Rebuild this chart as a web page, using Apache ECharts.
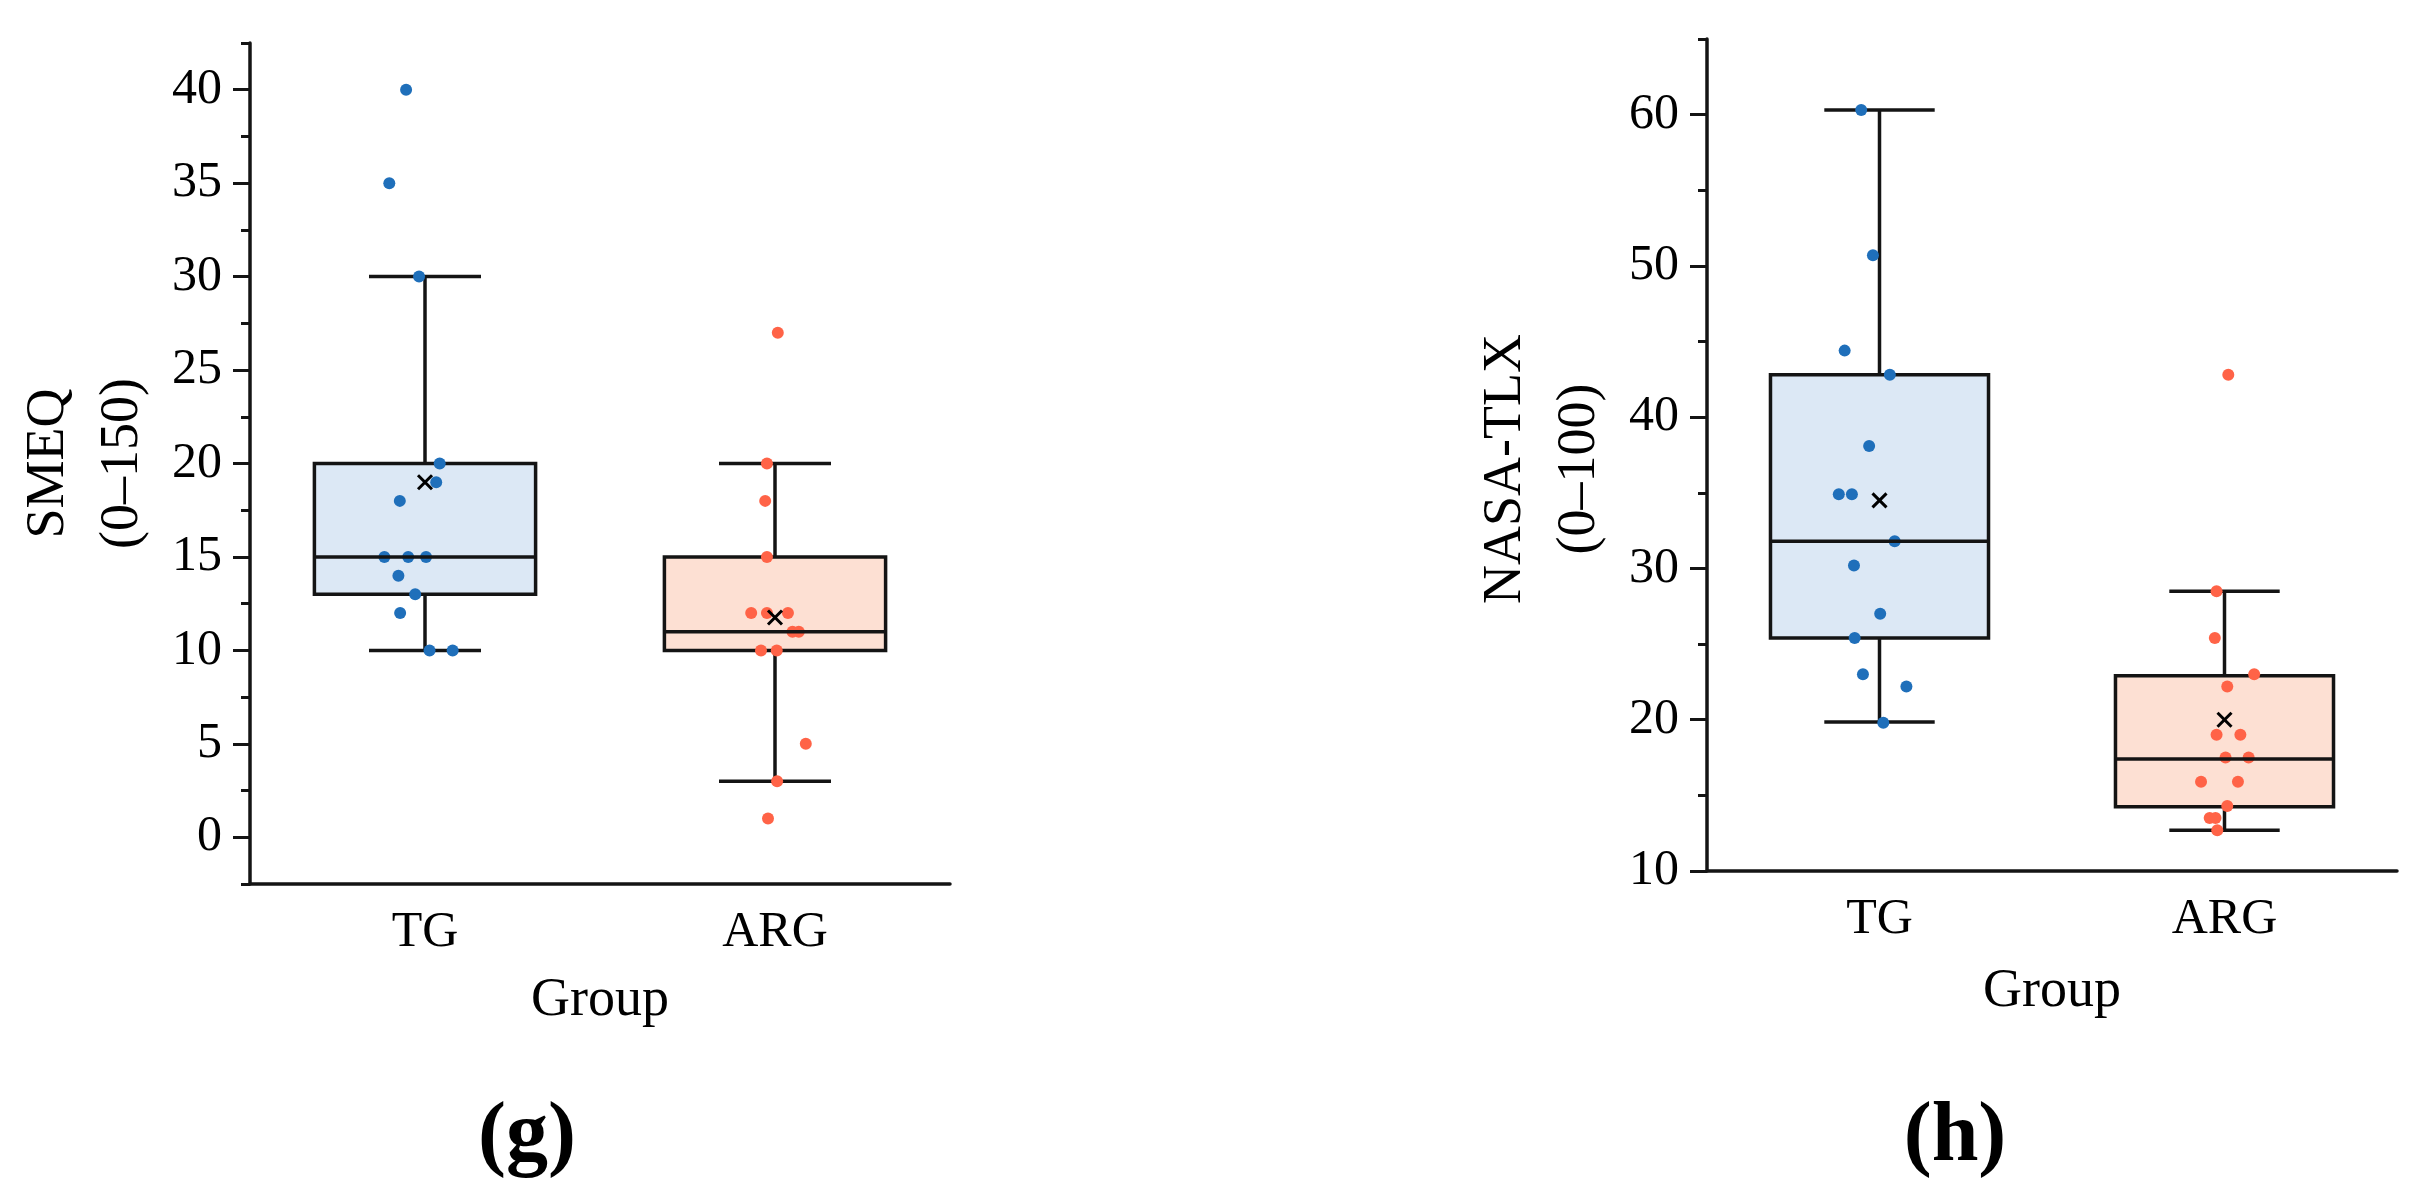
<!DOCTYPE html>
<html>
<head>
<meta charset="utf-8">
<script src="https://cdn.jsdelivr.net/npm/echarts@6/dist/echarts.min.js"></script>
<style>
html,body{margin:0;padding:0;background:#fff;}
#chart{width:2430px;height:1194px;}
</style>
</head>
<body>
<div id="chart"></div>
<script>
// ---------- data ----------
const categories = ['TG', 'ARG'];

// (g) SMEQ
const smeqTicks = [0, 5, 10, 15, 20, 25, 30, 35, 40];
const smeqBox = [[10, 13, 15, 20, 30], [3, 10, 11, 15, 20]]; // low, Q1, median, Q3, high
const smeqMean = [19.0, 11.76];
const smeqTG = [40, 35, 30, 20, 19, 18, 15, 15, 15, 14, 13, 12, 10, 10];
const smeqTGJitter = [-0.054, -0.102, -0.017, 0.042, 0.032, -0.072, -0.116, -0.048, 0.003, -0.076, -0.028, -0.071, 0.013, 0.079];
const smeqARG = [27, 20, 18, 15, 12, 12, 12, 11, 11, 10, 10, 5, 3, 1];
const smeqARGJitter = [0.008, -0.023, -0.028, -0.023, -0.068, -0.023, 0.037, 0.050, 0.068, -0.040, 0.005, 0.088, 0.006, -0.020];

// (h) NASA-TLX
const tlxTicks = [10, 20, 30, 40, 50, 60];
const tlxBox = [[19.85, 25.4, 31.8, 42.8, 60.3], [12.7, 14.25, 17.4, 22.9, 28.5]];
const tlxMean = [34.5, 20.0];
const tlxTG = [60.3, 50.7, 44.4, 42.8, 38.1, 34.9, 34.9, 31.8, 30.2, 27.0, 25.4, 23.0, 22.2, 19.8];
const tlxTGJitter = [-0.053, -0.019, -0.101, 0.030, -0.030, -0.118, -0.080, 0.044, -0.074, 0.002, -0.072, -0.048, 0.078, 0.011];
const tlxARG = [42.8, 28.5, 25.4, 23.0, 22.2, 19.0, 19.0, 17.5, 17.5, 15.9, 15.9, 14.3, 13.5, 13.5, 12.7];
const tlxARGJitter = [0.011, -0.023, -0.028, 0.086, 0.008, -0.023, 0.046, 0.003, 0.070, -0.068, 0.039, 0.008, -0.043, -0.026, -0.021];

// ---------- styles ----------
const FONT = '"Liberation Serif", "Times New Roman", serif';
const BLUE = '#1f6fba', RED = '#ff6347';
const FILLS = ['#dce8f5', '#fde0d3'];
const INK = '#141414';
const LW = 3.5;

function boxRender(params, api) {
  const x = api.value(0);
  const lo = api.coord([x, api.value(1)]);
  const q1 = api.coord([x, api.value(2)]);
  const q3 = api.coord([x, api.value(4)]);
  const hi = api.coord([x, api.value(5)]);
  const unit = api.size([1, 0])[0];
  const bw = unit * 0.316, cw = unit * 0.16;
  const ls = {stroke: INK, lineWidth: LW};
  return {type: 'group', children: [
    {type: 'line', shape: {x1: hi[0], y1: hi[1], x2: q3[0], y2: q3[1]}, style: ls},
    {type: 'line', shape: {x1: lo[0], y1: lo[1], x2: q1[0], y2: q1[1]}, style: ls},
    {type: 'line', shape: {x1: hi[0] - cw, y1: hi[1], x2: hi[0] + cw, y2: hi[1]}, style: ls},
    {type: 'line', shape: {x1: lo[0] - cw, y1: lo[1], x2: lo[0] + cw, y2: lo[1]}, style: ls},
    {type: 'rect', shape: {x: q1[0] - bw, y: q3[1], width: 2 * bw, height: q1[1] - q3[1]},
     style: {fill: FILLS[x], stroke: INK, lineWidth: LW}}
  ]};
}
function medRender(params, api) {
  const x = api.value(0);
  const m = api.coord([x, api.value(1)]);
  const mu = api.coord([x, api.value(2)]);
  const unit = api.size([1, 0])[0];
  const bw = unit * 0.316, s = 7;
  const ls = {stroke: INK, lineWidth: LW};
  return {type: 'group', children: [
    {type: 'line', shape: {x1: m[0] - bw, y1: m[1], x2: m[0] + bw, y2: m[1]}, style: ls},
    {type: 'line', shape: {x1: mu[0] - s, y1: mu[1] - s, x2: mu[0] + s, y2: mu[1] + s}, style: {stroke: '#000', lineWidth: 3}},
    {type: 'line', shape: {x1: mu[0] - s, y1: mu[1] + s, x2: mu[0] + s, y2: mu[1] - s}, style: {stroke: '#000', lineWidth: 3}}
  ]};
}

function catAxis(gi, gap) {
  return {
    type: 'category', gridIndex: gi, data: categories, boundaryGap: true,
    axisLine: {onZero: false, lineStyle: {color: INK, width: LW}},
    axisTick: {alignWithLabel: true, length: 17, lineStyle: {color: INK, width: 2.5}},
    axisLabel: {color: '#000', fontFamily: FONT, fontSize: 50, margin: 24},
    name: 'Group', nameLocation: 'middle', nameGap: gap,
    nameTextStyle: {color: '#000', fontFamily: FONT, fontSize: 54},
    splitLine: {show: false}
  };
}
function valX(gi) {
  return {type: 'value', gridIndex: gi, min: -0.5, max: 1.5, show: false,
          axisLine: {onZero: false}, splitLine: {show: false}};
}
function mainY(gi, min, max, ticks, name, pad) {
  return {
    type: 'value', gridIndex: gi, position: 'left', min: min, max: max,
    axisLine: {show: true, onZero: false, lineStyle: {color: INK, width: LW}},
    axisTick: {show: true, customValues: ticks, length: 17, lineStyle: {color: INK, width: 3}},
    axisLabel: {customValues: ticks, color: '#000', fontFamily: FONT, fontSize: 50, margin: 28},
    splitLine: {show: false},
    name: name, nameLocation: 'middle', nameGap: 90, nameRotate: 90,
    nameTextStyle: {color: '#000', fontFamily: FONT, fontSize: 54, lineHeight: 74, padding: pad}
  };
}
function minorY(gi, min, max, step) {
  return {
    type: 'value', gridIndex: gi, position: 'left', min: min, max: max, interval: step,
    axisLine: {show: false, onZero: false},
    axisTick: {show: true, length: 9, lineStyle: {color: INK, width: 3}},
    axisLabel: {show: false}, splitLine: {show: false}
  };
}

const option = {
  backgroundColor: '#fff',
  animation: false,
  grid: [
    {left: 250, top: 43, width: 700, height: 841},
    {left: 1707, top: 39, width: 690, height: 832}
  ],
  xAxis: [catAxis(0, 90), valX(0), catAxis(1, 94), valX(1)],
  yAxis: [
    mainY(0, -2.5, 42.5, smeqTicks, 'SMEQ\n(0\u2013150)', [0, 0, 0, 0]),
    minorY(0, -2.5, 42.5, 2.5),
    mainY(1, 10, 65, tlxTicks, 'NASA-TLX\n(0\u2013100)', [0, 28, 0, 0]),
    minorY(1, 10, 65, 5)
  ],
  graphic: [
    {type: 'text', x: 527, y: 1138, style: {text: '(g)', font: 'bold 84px ' + FONT, fill: '#000', align: 'center', verticalAlign: 'middle'}},
    {type: 'text', x: 1955, y: 1138, style: {text: '(h)', font: 'bold 84px ' + FONT, fill: '#000', align: 'center', verticalAlign: 'middle'}}
  ],
  series: [
    {type: 'custom', xAxisIndex: 1, yAxisIndex: 0, z: 2, renderItem: boxRender,
     data: smeqBox.map((b, i) => [i].concat(b))},
    {type: 'scatter', xAxisIndex: 1, yAxisIndex: 0, z: 3, symbolSize: 12, itemStyle: {color: BLUE, opacity: 1},
     data: smeqTG.map((v, i) => [0 + smeqTGJitter[i], v])},
    {type: 'scatter', xAxisIndex: 1, yAxisIndex: 0, z: 3, symbolSize: 12, itemStyle: {color: RED, opacity: 1},
     data: smeqARG.map((v, i) => [1 + smeqARGJitter[i], v])},
    {type: 'custom', xAxisIndex: 1, yAxisIndex: 0, z: 4, renderItem: medRender,
     data: smeqBox.map((b, i) => [i, b[2], smeqMean[i]])},

    {type: 'custom', xAxisIndex: 3, yAxisIndex: 2, z: 2, renderItem: boxRender,
     data: tlxBox.map((b, i) => [i].concat(b))},
    {type: 'scatter', xAxisIndex: 3, yAxisIndex: 2, z: 3, symbolSize: 12, itemStyle: {color: BLUE, opacity: 1},
     data: tlxTG.map((v, i) => [0 + tlxTGJitter[i], v])},
    {type: 'scatter', xAxisIndex: 3, yAxisIndex: 2, z: 3, symbolSize: 12, itemStyle: {color: RED, opacity: 1},
     data: tlxARG.map((v, i) => [1 + tlxARGJitter[i], v])},
    {type: 'custom', xAxisIndex: 3, yAxisIndex: 2, z: 4, renderItem: medRender,
     data: tlxBox.map((b, i) => [i, b[2], tlxMean[i]])}
  ]
};
const chart = echarts.init(document.getElementById('chart'));
chart.setOption(option);
</script>
</body>
</html>
